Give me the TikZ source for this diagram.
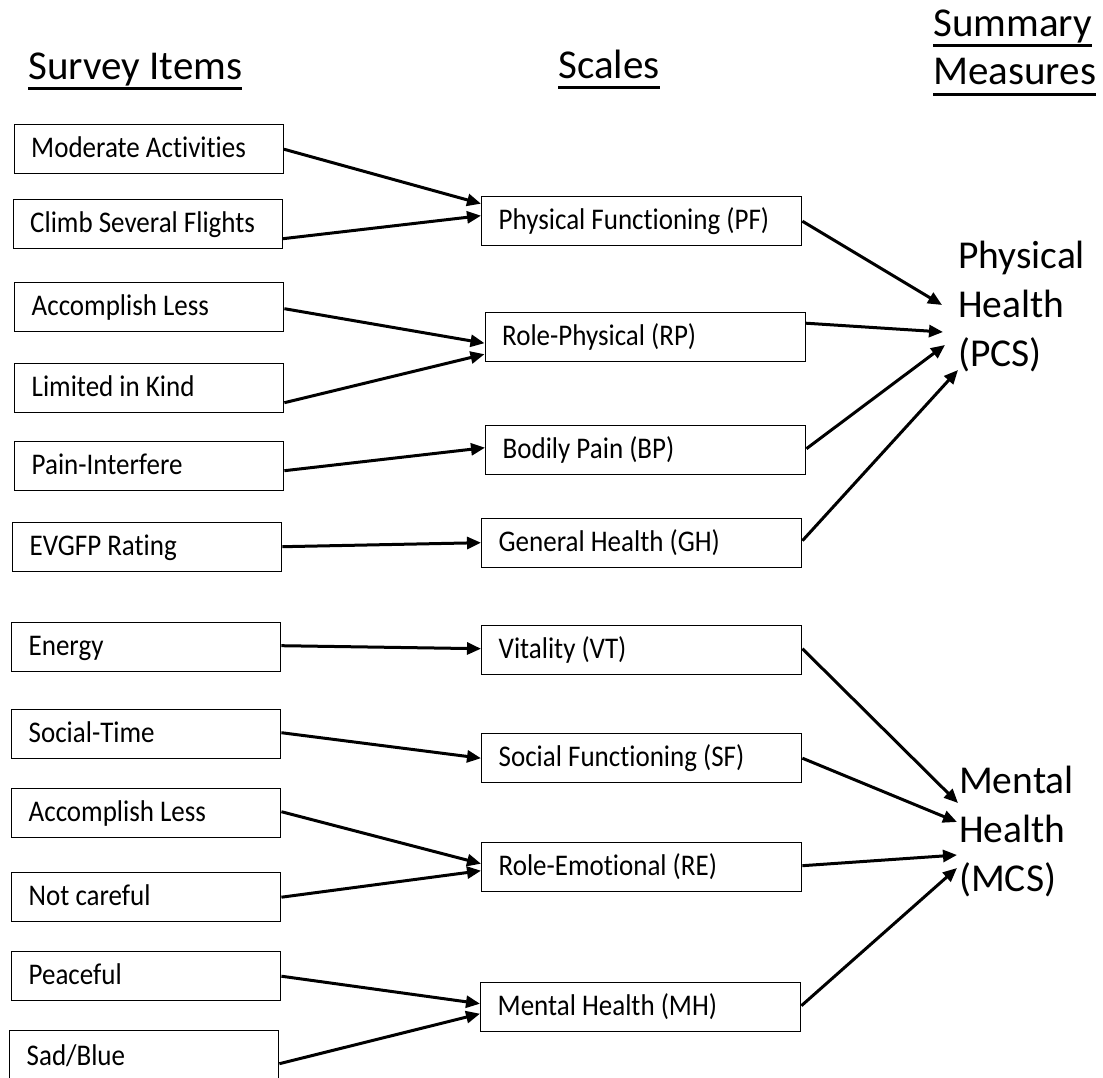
\documentclass[tikz,border=0pt]{standalone}
\usepackage{fontspec}
\setmainfont{Carlito}[Ligatures=NoCommon]
\newfontfamily\boxfont{Carlito}[FakeStretch=0.9, Ligatures=NoCommon]
\newcommand{\itm}[1]{\makebox[235pt][l]{#1}}
\newcommand{\scl}[1]{\makebox[286pt][l]{#1}}
\usetikzlibrary{arrows.meta}
\begin{document}
\begin{tikzpicture}[x=1pt,y=-1pt,
  itembox/.style={draw=black, line width=1.4pt, anchor=north west, minimum height=49pt,
    inner xsep=17pt, inner ysep=0pt,
    text height=21pt, text depth=4pt, font=\boxfont\fontsize{30}{34}\selectfont},
  scalebox/.style={itembox},
  link/.style={line width=3pt, -{Triangle[length=14pt,width=12pt]}},
  header/.style={inner sep=0pt, anchor=base west, font=\fontsize{41}{48}\selectfont},
  uline/.style={line width=3.5pt},
  summary/.style={inner sep=0pt, anchor=west, align=left, font=\fontsize{39.5}{49}\selectfont}]
\useasboundingbox (0,0) rectangle (1103,1078);

% headers
\node[header] (si) at (28,80) {Survey Items};
\node[header] (sc) at (558,79) {Scales};
\node[header] (sm1) at (933,37) {Summary};
\node[header] (sm2) at (933,85) {Measures};
\draw[uline] ([yshift=-8.5pt]si.base west) -- ([yshift=-8.5pt]si.base east);
\draw[uline] ([yshift=-8.5pt]sc.base west) -- ([yshift=-8.5pt]sc.base east);
\draw[uline] ([yshift=-8.5pt]sm1.base west) -- ([yshift=-8.5pt]sm1.base east);
\draw[uline] ([yshift=-9.5pt]sm2.base west) -- ([yshift=-9.5pt]sm2.base east);

% survey items
\node[itembox] (ma)  at (13.5,124) {\itm{Moderate Activities}};
\node[itembox] (csf) at (12.5,199) {\itm{Climb Several Flights}};
\node[itembox] (al1) at (14,282) {\itm{Accomplish Less}};
\node[itembox] (lk)  at (14,363) {\itm{Limited in Kind}};
\node[itembox] (pi)  at (14,441) {\itm{Pain-Interfere}};
\node[itembox] (ev)  at (12,522) {\itm{EVGFP Rating}};
\node[itembox] (en)  at (11,622) {\itm{Energy}};
\node[itembox] (st)  at (11,709) {\itm{Social-Time}};
\node[itembox] (al2) at (11,788) {\itm{Accomplish Less}};
\node[itembox] (nc)  at (11,872) {\itm{Not careful}};
\node[itembox] (pe)  at (11,951) {\itm{Peaceful}};
\node[itembox, minimum height=52pt] (sb) at (9,1030) {\itm{Sad/Blue}};

% scales
\node[scalebox] (pf) at (481,196) {\scl{Physical Functioning (PF)}};
\node[scalebox] (rp) at (484.5,312) {\scl{Role-Physical (RP)}};
\node[scalebox] (bp) at (485,425) {\scl{Bodily Pain (BP)}};
\node[scalebox] (gh) at (481,518) {\scl{General Health (GH)}};
\node[scalebox] (vt) at (481,625) {\scl{Vitality (VT)}};
\node[scalebox] (sf) at (481,733) {\scl{Social Functioning (SF)}};
\node[scalebox] (re) at (481,842) {\scl{Role-Emotional (RE)}};
\node[scalebox] (mh) at (480,982) {\scl{Mental Health (MH)}};

% summary measures
\node[summary] (pcs) at (958,306.5) {Physical\\Health\\(PCS)};
\node[summary] (mcs) at (959,832) {Mental\\Health\\(MCS)};
\coordinate (pcsA) at (942,305);
\coordinate (pcsB) at (943,332);
\coordinate (pcsC) at (945,345);
\coordinate (pcsD) at (958,370);
\coordinate (mcsA) at (958,803);
\coordinate (mcsB) at (957,822);
\coordinate (mcsC) at (957,855);
\coordinate (mcsD) at (957,868);

% items -> scales
\draw[link] (ma.east) -- ([yshift=17.5pt]pf.west);
\draw[link] ([yshift=-14.5pt]csf.east) -- ([yshift=5.5pt]pf.west);
\draw[link] ([yshift=-1.5pt]al1.east) -- ([yshift=-6pt]rp.west);
\draw[link] ([yshift=-14.5pt]lk.east) -- ([yshift=-17pt]rp.west);
\draw[link] ([yshift=-4.5pt]pi.east) -- ([yshift=2.5pt]bp.west);
\draw[link] ([yshift=0.5pt]ev.east) -- ([yshift=0.5pt]gh.west);
\draw[link] ([yshift=1.5pt]en.east) -- ([yshift=1.5pt]vt.west);
\draw[link] ([yshift=1.5pt]st.east) -- (sf.west);
\draw[link] ([yshift=1.5pt]al2.east) -- ([yshift=3.5pt]re.west);
\draw[link] (nc.east) -- ([yshift=-3.5pt]re.west);
\draw[link] (pe.east) -- ([yshift=3.5pt]mh.west);
\draw[link] ([yshift=-7pt]sb.east) -- ([yshift=-6.5pt]mh.west);

% scales -> summary
\draw[link] (pf.east) -- (pcsA);
\draw[link] ([yshift=14pt]rp.east) -- (pcsB);
\draw[link] ([yshift=1.5pt]bp.east) -- (pcsC);
\draw[link] ([yshift=2.5pt]gh.east) -- (pcsD);
\draw[link] ([yshift=1.5pt]vt.east) -- (mcsA);
\draw[link] (sf.east) -- (mcsB);
\draw[link] ([yshift=1.5pt]re.east) -- (mcsC);
\draw[link] ([yshift=1.5pt]mh.east) -- (mcsD);
\end{tikzpicture}
\end{document}
